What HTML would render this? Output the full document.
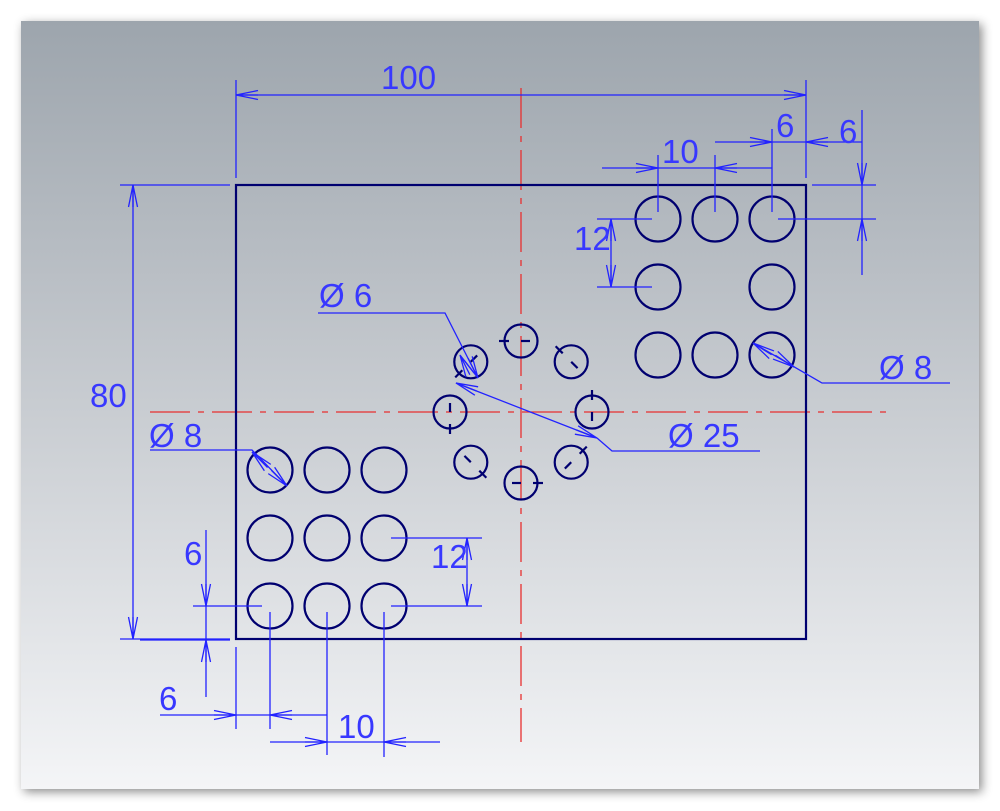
<!DOCTYPE html>
<html><head><meta charset="utf-8">
<style>
html,body{margin:0;padding:0;background:#fff;width:1000px;height:811px;overflow:hidden}
svg{display:block}
text{font-family:"Liberation Sans",sans-serif;fill:#3838ff;font-size:33px}
</style></head><body>
<svg id="s" width="1000" height="811" viewBox="0 0 1000 811" xmlns="http://www.w3.org/2000/svg">
<defs>
<linearGradient id="g" x1="0" y1="0" x2="0" y2="1">
<stop offset="0" stop-color="#9da5ad"/><stop offset="0.5" stop-color="#c8ccd1"/><stop offset="1" stop-color="#f4f5f7"/>
</linearGradient>
<filter id="sh" x="-5%" y="-5%" width="110%" height="110%"><feDropShadow dx="3" dy="3" stdDeviation="5" flood-color="#000" flood-opacity="0.45"/></filter>
</defs>
<rect x="21" y="21" width="958" height="768" fill="url(#g)" filter="url(#sh)"/>
<g stroke="#e83030" stroke-width="1.3" fill="none" stroke-dasharray="40 8 6 8">
<line x1="521" y1="88" x2="521" y2="742"/>
<line x1="150" y1="412" x2="894" y2="412"/>
</g>
<g stroke="#000070" stroke-width="2.2" fill="none">
<rect x="236" y="185" width="570" height="454"/>
<circle cx="658" cy="219" r="22.5"/><circle cx="715" cy="219" r="22.5"/><circle cx="772" cy="219" r="22.5"/>
<circle cx="658" cy="287" r="22.5"/><circle cx="772" cy="287" r="22.5"/>
<circle cx="658" cy="355" r="22.5"/><circle cx="715" cy="355" r="22.5"/><circle cx="772" cy="355" r="22.5"/>
<circle cx="270" cy="470" r="22.5"/><circle cx="327" cy="470" r="22.5"/><circle cx="384" cy="470" r="22.5"/>
<circle cx="270" cy="538" r="22.5"/><circle cx="327" cy="538" r="22.5"/><circle cx="384" cy="538" r="22.5"/>
<circle cx="270" cy="606" r="22.5"/><circle cx="327" cy="606" r="22.5"/><circle cx="384" cy="606" r="22.5"/>
</g>
<g id="bolt" stroke="#000070" stroke-width="2.2" fill="none"></g>
<g id="dim" stroke="#2222ff" stroke-width="1.3" fill="none">
<line x1="236" y1="95" x2="806" y2="95"/><line x1="236" y1="80" x2="236" y2="178"/><line x1="806" y1="80" x2="806" y2="178"/>
<line x1="133" y1="185" x2="133" y2="639"/><line x1="120" y1="185" x2="230" y2="185"/><line x1="120" y1="639" x2="230" y2="639"/>
<line x1="602" y1="168" x2="772" y2="168"/><line x1="658" y1="155" x2="658" y2="212"/><line x1="715" y1="155" x2="715" y2="212"/>
<line x1="715" y1="142" x2="862" y2="142"/><line x1="772" y1="129" x2="772" y2="212"/>
<line x1="862" y1="110" x2="862" y2="275"/><line x1="812" y1="185" x2="876" y2="185"/><line x1="778" y1="219" x2="876" y2="219"/>
<line x1="611" y1="219" x2="611" y2="287"/><line x1="597" y1="219" x2="652" y2="219"/><line x1="597" y1="287" x2="652" y2="287"/>
<polyline points="753,343 822,383 950,383"/>
<line x1="456" y1="383" x2="597" y2="438"/><polyline points="597,438 612,451 760,451"/>
<polyline points="318,313 445,313 478,378"/>
<polyline points="150,450 252,450 287,486"/>
<line x1="206" y1="530" x2="206" y2="697"/><line x1="193" y1="606" x2="262" y2="606"/><line x1="140" y1="640" x2="230" y2="640"/>
<line x1="467" y1="538" x2="467" y2="606"/><line x1="391" y1="538" x2="482" y2="538"/><line x1="391" y1="606" x2="482" y2="606"/>
<line x1="160" y1="715" x2="327" y2="715"/><line x1="236" y1="647" x2="236" y2="729"/><line x1="270" y1="612" x2="270" y2="729"/>
<line x1="270" y1="742" x2="440" y2="742"/><line x1="327" y1="612" x2="327" y2="755"/><line x1="384" y1="612" x2="384" y2="757"/>
</g>
<text x="381" y="89">100</text>
<text x="90" y="407">80</text>
<text x="662" y="163">10</text>
<text x="776" y="137">6</text>
<text x="839" y="143">6</text>
<text x="574" y="250">12</text>
<text x="879" y="379">Ø 8</text>
<text x="668" y="447">Ø 25</text>
<text x="319" y="307">Ø 6</text>
<text x="149" y="447">Ø 8</text>
<text x="184" y="565">6</text>
<text x="431" y="568">12</text>
<text x="159" y="710">6</text>
<text x="338" y="738">10</text>
<script>
(function(){
var ns="http://www.w3.org/2000/svg";
var dim=document.getElementById("dim"),bolt=document.getElementById("bolt");
function arrow(x,y,dx,dy){
 var L=Math.hypot(dx,dy);dx/=L;dy/=L;var l=22,w=4.5;
 var bx=x-dx*l,by=y-dy*l,px=-dy*w,py=dx*w;
 var p=document.createElementNS(ns,"path");
 p.setAttribute("d","M"+(bx+px)+","+(by+py)+"L"+x+","+y+"L"+(bx-px)+","+(by-py)+"M"+x+","+y+"L"+bx+","+by);
 dim.appendChild(p);}
arrow(236,95,-1,0);arrow(806,95,1,0);
arrow(133,185,0,-1);arrow(133,639,0,1);
arrow(658,168,1,0);arrow(715,168,-1,0);
arrow(772,142,1,0);arrow(806,142,-1,0);
arrow(862,185,0,1);arrow(862,219,0,-1);
arrow(611,219,0,-1);arrow(611,287,0,1);
arrow(206,606,0,1);arrow(206,640,0,-1);
arrow(467,538,0,-1);arrow(467,606,0,1);
arrow(236,715,1,0);arrow(270,715,-1,0);
arrow(327,742,1,0);arrow(384,742,-1,0);
arrow(456,383,-141,-55);arrow(597,438,141,55);
arrow(753,343,-19,-12);arrow(794,367,19,12);
arrow(252,452,-1,-1);arrow(287,486,1,1);
arrow(460,355,-1,-2);arrow(478,378,1,2);
var cx=521,cy=412,R=71;
for(var i=0;i<8;i++){
 var a=Math.PI/2-i*Math.PI/4;
 var x=cx+R*Math.cos(a),y=cy-R*Math.sin(a);
 var c=document.createElementNS(ns,"circle");
 c.setAttribute("cx",x);c.setAttribute("cy",y);c.setAttribute("r",16.5);bolt.appendChild(c);
 var t=a+Math.PI/2,ex=Math.cos(t),ey=-Math.sin(t);
 var l=document.createElementNS(ns,"line");
 l.setAttribute("x1",x+ex*12);l.setAttribute("y1",y+ey*12);l.setAttribute("x2",x+ex*22);l.setAttribute("y2",y+ey*22);bolt.appendChild(l);
 var m=document.createElementNS(ns,"line");
 m.setAttribute("x1",x);m.setAttribute("y1",y);m.setAttribute("x2",x-ex*9);m.setAttribute("y2",y-ey*9);bolt.appendChild(m);
}
})();
</script>
</svg>
</body></html>
